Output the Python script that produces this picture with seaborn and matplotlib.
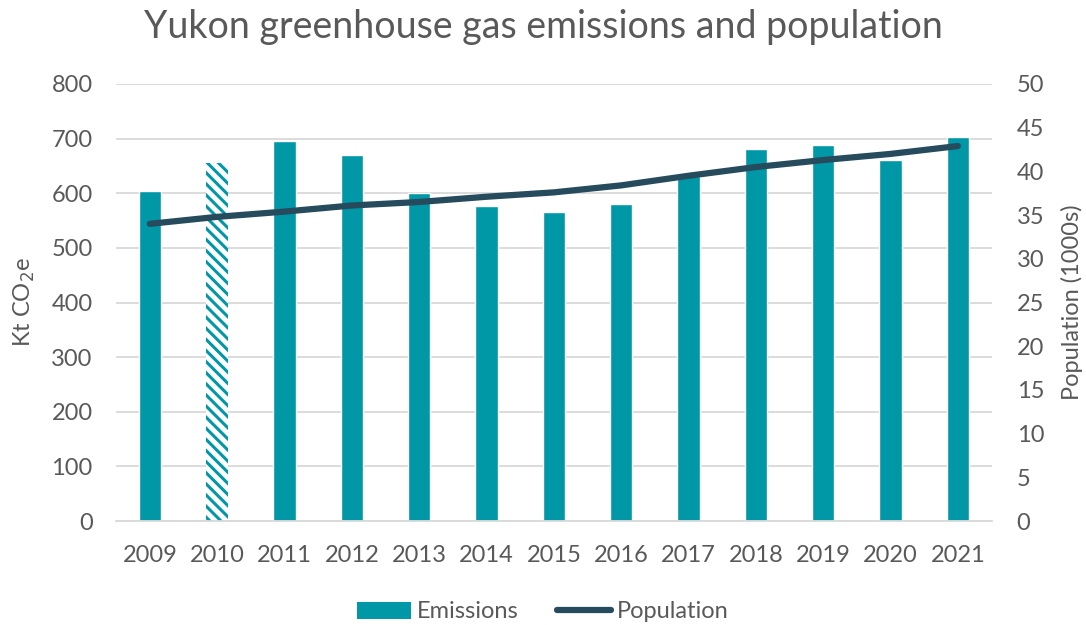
import matplotlib
matplotlib.use("Agg")
import matplotlib.pyplot as plt
import seaborn as sns
import numpy as np
import pandas as pd
from matplotlib.lines import Line2D
from matplotlib.patches import Patch

years = ["2009", "2010", "2011", "2012", "2013", "2014", "2015", "2016", "2017", "2018", "2019", "2020", "2021"]
emissions = [604, 655, 696, 670, 601, 577, 565, 581, 632, 681, 689, 661, 703]
population = [34.0, 34.8, 35.4, 36.1, 36.5, 37.1, 37.6, 38.4, 39.5, 40.5, 41.3, 42.0, 42.9]

teal = "#0097A7"
navy = "#264B5D"
grey = "#595959"

sns.set_theme(style="white")
plt.rcParams['font.family'] = ['Lato', 'DejaVu Sans']
plt.rcParams['hatch.linewidth'] = 2.2

fig, ax = plt.subplots(figsize=(10.86, 6.25), dpi=100)
fig.subplots_adjust(left=0.107, right=0.913, top=0.8656, bottom=0.1664)

df = pd.DataFrame({"year": years, "emissions": emissions, "population": population})
sns.barplot(data=df, x="year", y="emissions", color=teal, width=0.33, ax=ax, saturation=1)
# 2010 hatched bar
p = ax.patches[1]
p.set_facecolor("white")
p.set_edgecolor(teal)
p.set_hatch("\\\\\\")
p.set_linewidth(0)

ax.set_ylim(0, 800)
ax.set_yticks(range(0, 801, 100))
ax.grid(axis="y", color="#d9d9d9", linewidth=1.3)
ax.set_axisbelow(True)
for s in ["top", "left", "right"]:
    ax.spines[s].set_visible(False)
ax.spines["bottom"].set_color("#d9d9d9")
ax.spines["bottom"].set_linewidth(1.3)
ax.tick_params(axis="y", length=0, labelsize=17, labelcolor=grey, pad=17)
ax.tick_params(axis="x", length=0, labelsize=17, labelcolor=grey, pad=17)
ax.set_xlabel("")
ax.set_ylabel("Kt CO$_2$e", fontsize=17, color=grey, labelpad=10)

ax2 = ax.twinx()
sns.lineplot(x=np.arange(len(years)), y=population, color=navy, linewidth=4.5,
             solid_capstyle="round", ax=ax2)
ax2.set_ylim(0, 50)
ax2.set_yticks(range(0, 51, 5))
for s in ["top", "left", "right", "bottom"]:
    ax2.spines[s].set_visible(False)
ax2.tick_params(axis="y", length=0, labelsize=17, labelcolor=grey, pad=18)
ax2.set_ylabel("Population (1000s)", fontsize=17, color=grey, labelpad=12)
ax.set_xlim(-0.5, len(years) - 0.5)

fig.suptitle("Yukon greenhouse gas emissions and population", fontsize=27, color=grey, y=0.985)

handles = [Patch(facecolor=teal, edgecolor="none"),
           Line2D([0], [0], color=navy, linewidth=4.5, solid_capstyle="round")]
fig.legend(handles, ["Emissions", "Population"], loc="lower center", ncol=2, frameon=False,
           fontsize=17, labelcolor=grey, bbox_to_anchor=(0.5, -0.03), handlelength=2.3,
           handleheight=0.75, handletextpad=0.25, columnspacing=1.6)

fig.savefig("out.png", dpi=100)
